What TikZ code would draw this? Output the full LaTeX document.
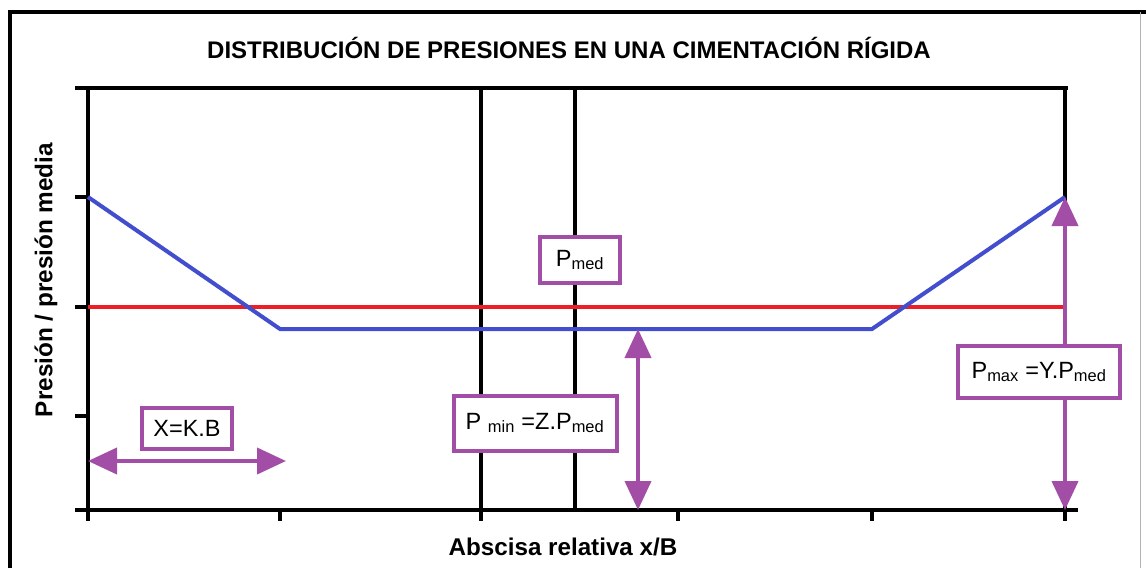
\documentclass[tikz,border=0pt]{standalone}
\usepackage{fontspec}
\setmainfont{Liberation Sans}
\usetikzlibrary{arrows.meta}

\definecolor{azul}{RGB}{66,78,206}
\definecolor{rojo}{RGB}{236,30,38}
\definecolor{lila}{RGB}{162,78,166}

\tikzset{
  eje/.style={line width=4pt,black},
  curva/.style={line width=4pt},
  caja/.style={draw=lila,line width=4pt,fill=white,inner sep=0pt,
    font=\fontsize{23.5}{26}\selectfont},
  cota/.style={lila,line width=4pt,
    {Triangle[length=29pt,width=26pt]}-{Triangle[length=29pt,width=26pt]}}
}

\begin{document}
\begin{tikzpicture}[x=1pt,y=-1pt]
    \useasboundingbox (0,0) rectangle (1146,568);
    % marco
    \draw[line width=4pt] (10,568) -- (10,12) -- (1146,12);
    \draw[gray!60,line width=1pt] (1140,12) -- (1140,568);
    \node[font=\bfseries\fontsize{24}{28}\selectfont] (titulo) at (569,48)
        {DISTRIBUCIÓN DE PRESIONES EN UNA CIMENTACIÓN RÍGIDA};
    % ejes
    \draw[eje] (75,88) -- (1068,88);
    \draw[eje] (75,510) -- (1078,510);
    \draw[eje] (88,88) -- (88,521);
    \draw[eje] (1065,88) -- (1065,521);
    \foreach \y in {197,307,416}
        \draw[eje] (75,\y) -- (88,\y);
    \foreach \x in {280,481,678,872}
        \draw[eje] (\x,510) -- (\x,521);
    \draw[eje] (481,88) -- (481,510);
    \draw[eje] (575,88) -- (575,510);
    % presiones
    \draw[curva,rojo] (88,307) -- (1065,307);
    \draw[curva,azul] (88,197) -- (280,329) -- (872,329) -- (1065,197);
    % textos de ejes
    \node[font=\bfseries\fontsize{24.3}{28}\selectfont,rotate=90] (ylab) at (46,280)
        {Presión / presión media};
    \node[font=\bfseries\fontsize{24.2}{28}\selectfont] (xlab) at (563,547)
        {Abscisa relativa x/B};
    % cotas
    \coordinate (xa) at (88,461);
    \coordinate (xb) at (286,461);
    \coordinate (mina) at (638,329);
    \coordinate (minb) at (638,510);
    \coordinate (maxa) at (1065,197);
    \coordinate (maxb) at (1065,510);
    \draw[cota] (xa) -- (xb);
    \draw[cota] (mina) -- (minb);
    \draw[cota] (maxa) -- (maxb);
    \node[caja,minimum width=90pt,minimum height=41pt] (kb) at (187,428) {X=K.B};
    \node[caja,minimum width=80pt,minimum height=46pt] (pmed) at (580,260)
        {P\textsubscript{med}};
    \node[caja,minimum width=163pt,minimum height=55pt] (pmin) at (535,423)
        {P \textsubscript{min} =Z.P\textsubscript{med}};
    \node[caja,minimum width=162pt,minimum height=52pt] (pmax) at (1039,372)
        {P\textsubscript{max} =Y.P\textsubscript{med}};
\end{tikzpicture}
\end{document}
